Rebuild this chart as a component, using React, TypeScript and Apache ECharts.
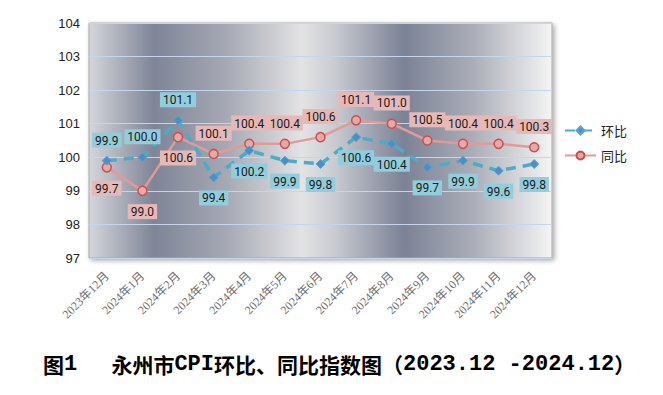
import React, { useEffect, useRef } from "react";
import * as echarts from "echarts";

const categories = [
  "2023年12月", "2024年1月", "2024年2月", "2024年3月", "2024年4月", "2024年5月",
  "2024年6月", "2024年7月", "2024年8月", "2024年9月", "2024年10月", "2024年11月", "2024年12月",
];
const huanbi = [99.9, 100.0, 101.1, 99.4, 100.2, 99.9, 99.8, 100.6, 100.4, 99.7, 99.9, 99.6, 99.8];
const tongbi = [99.7, 99.0, 100.6, 100.1, 100.4, 100.4, 100.6, 101.1, 101.0, 100.5, 100.4, 100.4, 100.3];
const yTicks = [97, 98, 99, 100, 101, 102, 103, 104];
const titleText = "图1　 永州市CPI环比、同比指数图（2023.12 -2024.12）";

// label placement per point: [position, dx, dy]
const huanbiLabelLayout: [string, number, number][] = [
  ["top", -11, -2], ["top", -4, 0], ["top", 0, 0], ["bottom", 0, 0], ["bottom", 0, 0],
  ["bottom", -2, -2], ["bottom", 0, -4], ["bottom", -8, 2], ["bottom", -2, 0],
  ["bottom", -6, 2], ["bottom", 1, 4], ["bottom", 1, 5], ["bottom", 4, 5],
];
const tongbiLabelLayout: [string, number, number][] = [
  ["bottom", -9, 2], ["bottom", 0, 2], ["bottom", -4, 2], ["top", 0, 3], ["top", -1, -3],
  ["top", -4, -3], ["top", 0, 0], ["top", -8, -5], ["top", -5, 0], ["top", -4, 0],
  ["top", -1, -2], ["top", -1, 0], ["top", 6, 2],
];

function richTitle(s: string): string {
  const parts = s.match(/[\x00-\x7f]+|[^\x00-\x7f]+/g) || [];
  return parts.map((p) => (/^[\x00-\x7f]/.test(p) ? `{a|${p}}` : `{c|${p}}`)).join("");
}

export default function App() {
  const ref = useRef<HTMLDivElement>(null);
  useEffect(() => {
    if (!ref.current) return;
    const chart = echarts.init(ref.current, null, { renderer: "svg" });
    const labelFont = { fontFamily: "Roboto, sans-serif", fontSize: 12, color: "#1a1a1a" };
    const hbData = huanbi.map((v, i) => ({
      value: v,
      label: {
        position: huanbiLabelLayout[i][0],
        offset: [huanbiLabelLayout[i][1], huanbiLabelLayout[i][2]],
      },
    }));
    const tbData = tongbi.map((v, i) => ({
      value: v,
      label: {
        position: tongbiLabelLayout[i][0],
        offset: [tongbiLabelLayout[i][1], tongbiLabelLayout[i][2]],
      },
    }));
    chart.setOption({
      animation: false,
      backgroundColor: "#ffffff",
      title: {
        text: richTitle(titleText),
        left: 38,
        top: 348,
        textStyle: {
          rich: {
            c: {
              fontFamily: "'Noto Sans CJK SC', sans-serif",
              fontSize: 21,
              fontWeight: "bold",
              color: "#000",
            },
            a: {
              fontFamily: "'Liberation Mono', monospace",
              fontSize: 22,
              fontWeight: "bold",
              color: "#000",
            },
          },
        },
      },
      legend: {
        orient: "vertical",
        left: 559,
        top: 119,
        itemWidth: 31,
        itemHeight: 10,
        itemGap: 12,
        textStyle: { fontFamily: "'Noto Sans CJK SC', sans-serif", fontSize: 13, color: "#222" },
        data: ["环比", "同比"],
      },
      grid: {
        left: 89,
        right: 111,
        top: 23,
        bottom: 137,
        show: true,
        borderWidth: 1,
        borderColor: "#a8a8a8",
        shadowBlur: 5,
        shadowColor: "rgba(0,0,0,0.35)",
        shadowOffsetX: 2,
        shadowOffsetY: 2,
        backgroundColor: new echarts.graphic.LinearGradient(0, 0, 1, 0, [
          { offset: 0, color: "#d5d6db" },
          { offset: 0.14, color: "#7f8597" },
          { offset: 0.3, color: "#a7aab5" },
          { offset: 0.46, color: "#e3e3e4" },
          { offset: 0.53, color: "#c9cbd1" },
          { offset: 0.68, color: "#7c8295" },
          { offset: 0.83, color: "#abaeb8" },
          { offset: 1, color: "#f5f5f5" },
        ]),
      },
      xAxis: {
        type: "category",
        data: categories,
        boundaryGap: true,
        axisLine: { show: false },
        axisTick: { show: false },
        axisLabel: {
          rotate: 45,
          margin: 16,
          interval: 0,
          fontFamily: "'Liberation Serif', 'Noto Sans CJK SC', serif",
          fontSize: 12,
          color: "#707070",
        },
      },
      yAxis: {
        type: "value",
        min: yTicks[0],
        max: yTicks[yTicks.length - 1],
        interval: 1,
        axisLine: { show: false },
        axisTick: { show: false },
        axisLabel: {
          margin: 9,
          fontFamily: "'Liberation Sans', sans-serif",
          fontSize: 13,
          color: "#222",
        },
        splitLine: { lineStyle: { color: "#c3d6ee", width: 1 } },
      },
      series: [
        {
          name: "环比",
          type: "line",
          data: hbData,
          symbol: "diamond",
          symbolSize: 9,
          itemStyle: { color: "#4a8fc7", borderColor: "#5aa2d2", borderWidth: 1 },
          lineStyle: { color: "#4bacc6", width: 3.5, type: [10, 7] },
          label: {
            show: true,
            distance: 8,
            formatter: (p: any) => Number(p.value).toFixed(1),
            backgroundColor: "#92cddc",
            padding: [2, 3, 1, 3],
            ...labelFont,
          },
          labelLayout: { hideOverlap: false },
          z: 3,
        },
        {
          name: "同比",
          type: "line",
          data: tbData,
          symbol: "circle",
          symbolSize: 9,
          itemStyle: { color: "#e6a9a8", borderColor: "#c9504d", borderWidth: 1.5 },
          lineStyle: { color: "#e39997", width: 2.5 },
          label: {
            show: true,
            distance: 8,
            formatter: (p: any) => Number(p.value).toFixed(1),
            backgroundColor: "#e6b9b8",
            padding: [2, 3, 1, 3],
            ...labelFont,
          },
          labelLayout: { hideOverlap: false },
          z: 2,
        },
      ],
    });
    return () => chart.dispose();
  }, []);
  return (
    <div
      ref={ref}
      style={{ position: "absolute", left: 0, top: 0, width: 663, height: 395 }}
    />
  );
}
